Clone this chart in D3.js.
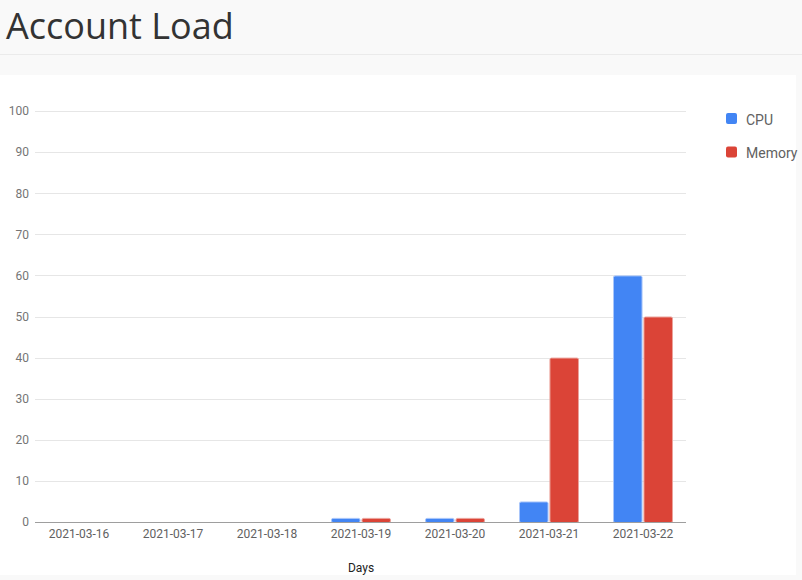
<!DOCTYPE html>
<html><head><meta charset="utf-8">
<script src="https://cdn.jsdelivr.net/npm/d3@7"></script>
<style>
html,body{margin:0;padding:0;background:#f9f9f9;}
svg{display:block;}
</style></head>
<body>
<svg id="c" width="802" height="580"></svg>
<script>
const categories = ["2021-03-16","2021-03-17","2021-03-18","2021-03-19","2021-03-20","2021-03-21","2021-03-22"];
const seriesNames = ["CPU","Memory"];
const cpuValues = [0,0,0,1,1,5,60];
const memoryValues = [0,0,0,1,1,40,50];
const yTicks = [0,10,20,30,40,50,60,70,80,90,100];
const colors = ["#4285f4","#db4437"];
const strokes = ["#a9c6fa","#eba29b"];

const svg = d3.select("#c");
// header
svg.append("rect").attr("x",0).attr("y",0).attr("width",802).attr("height",54).attr("fill","#f9f9f9");
svg.append("line").attr("x1",0).attr("x2",802).attr("y1",54.5).attr("y2",54.5).attr("stroke","#ebebeb");
svg.append("text").attr("x",6).attr("y",39).attr("font-family","Open Sans").attr("font-size",36)
  .attr("fill","#333").text("Account Load");
// panel
svg.append("rect").attr("x",0).attr("y",75).attr("width",796).attr("height",500).attr("fill","#fff");

const x = d3.scaleBand().domain(categories).range([32,690]).paddingInner(0.362).paddingOuter(0.181);
const xs = d3.scaleBand().domain(seriesNames).range([0,x.bandwidth()]).paddingInner(0.03);
const y = d3.scaleLinear().domain([0,100]).range([522,111]);

const g = svg.append("g");
// grid
g.selectAll("line.grid").data(yTicks.filter(d=>d>0)).join("line")
  .attr("x1",35).attr("x2",686).attr("y1",d=>Math.round(y(d))+0.5).attr("y2",d=>Math.round(y(d))+0.5)
  .attr("stroke","#e6e6e6");
// y axis labels
const yAxis = d3.axisLeft(y).tickValues(yTicks).tickSize(0).tickPadding(0);
const ya = g.append("g").attr("transform","translate(29,0)").call(yAxis);
ya.select(".domain").remove();
ya.selectAll("text").attr("font-family","Roboto").attr("font-size",12).attr("fill","#757575");

// bars
const series = [cpuValues, memoryValues];
series.forEach((vals,si)=>{
  g.selectAll("rect.s"+si).data(vals.map((v,i)=>({v,c:categories[i]})).filter(d=>d.v>0)).join("rect")
    .attr("x",d=>x(d.c)+xs(seriesNames[si])+0.5)
    .attr("width",xs.bandwidth()-1)
    .attr("y",d=>y(d.v)+0.5)
    .attr("height",d=>y(0)-y(d.v))
    .attr("rx",1.5)
    .attr("fill",colors[si]).attr("stroke",strokes[si]).attr("stroke-width",1);
});

// baseline
g.append("line").attr("x1",35).attr("x2",686).attr("y1",522.5).attr("y2",522.5).attr("stroke","#9e9e9e");

// x axis labels
const xAxis = d3.axisBottom(x).tickSize(0).tickPadding(0);
const xa = g.append("g").attr("transform","translate(0,529)").call(xAxis);
xa.select(".domain").remove();
xa.selectAll("text").attr("font-family","Roboto").attr("font-size",12).attr("fill","#616161");

svg.append("text").attr("x",361).attr("y",572).attr("text-anchor","middle")
  .attr("font-family","Roboto").attr("font-size",12).attr("fill","#222").text("Days");

// legend
const lg = svg.append("g");
seriesNames.forEach((n,i)=>{
  const yy = 113 + i*33.5;
  lg.append("rect").attr("x",726).attr("y",yy).attr("width",11).attr("height",11).attr("rx",2)
    .attr("fill",colors[i]);
  lg.append("text").attr("x",746).attr("y",yy+11.5).attr("font-family","Roboto").attr("font-size",14)
    .attr("fill","#616161").text(n);
});
</script>
</body></html>
